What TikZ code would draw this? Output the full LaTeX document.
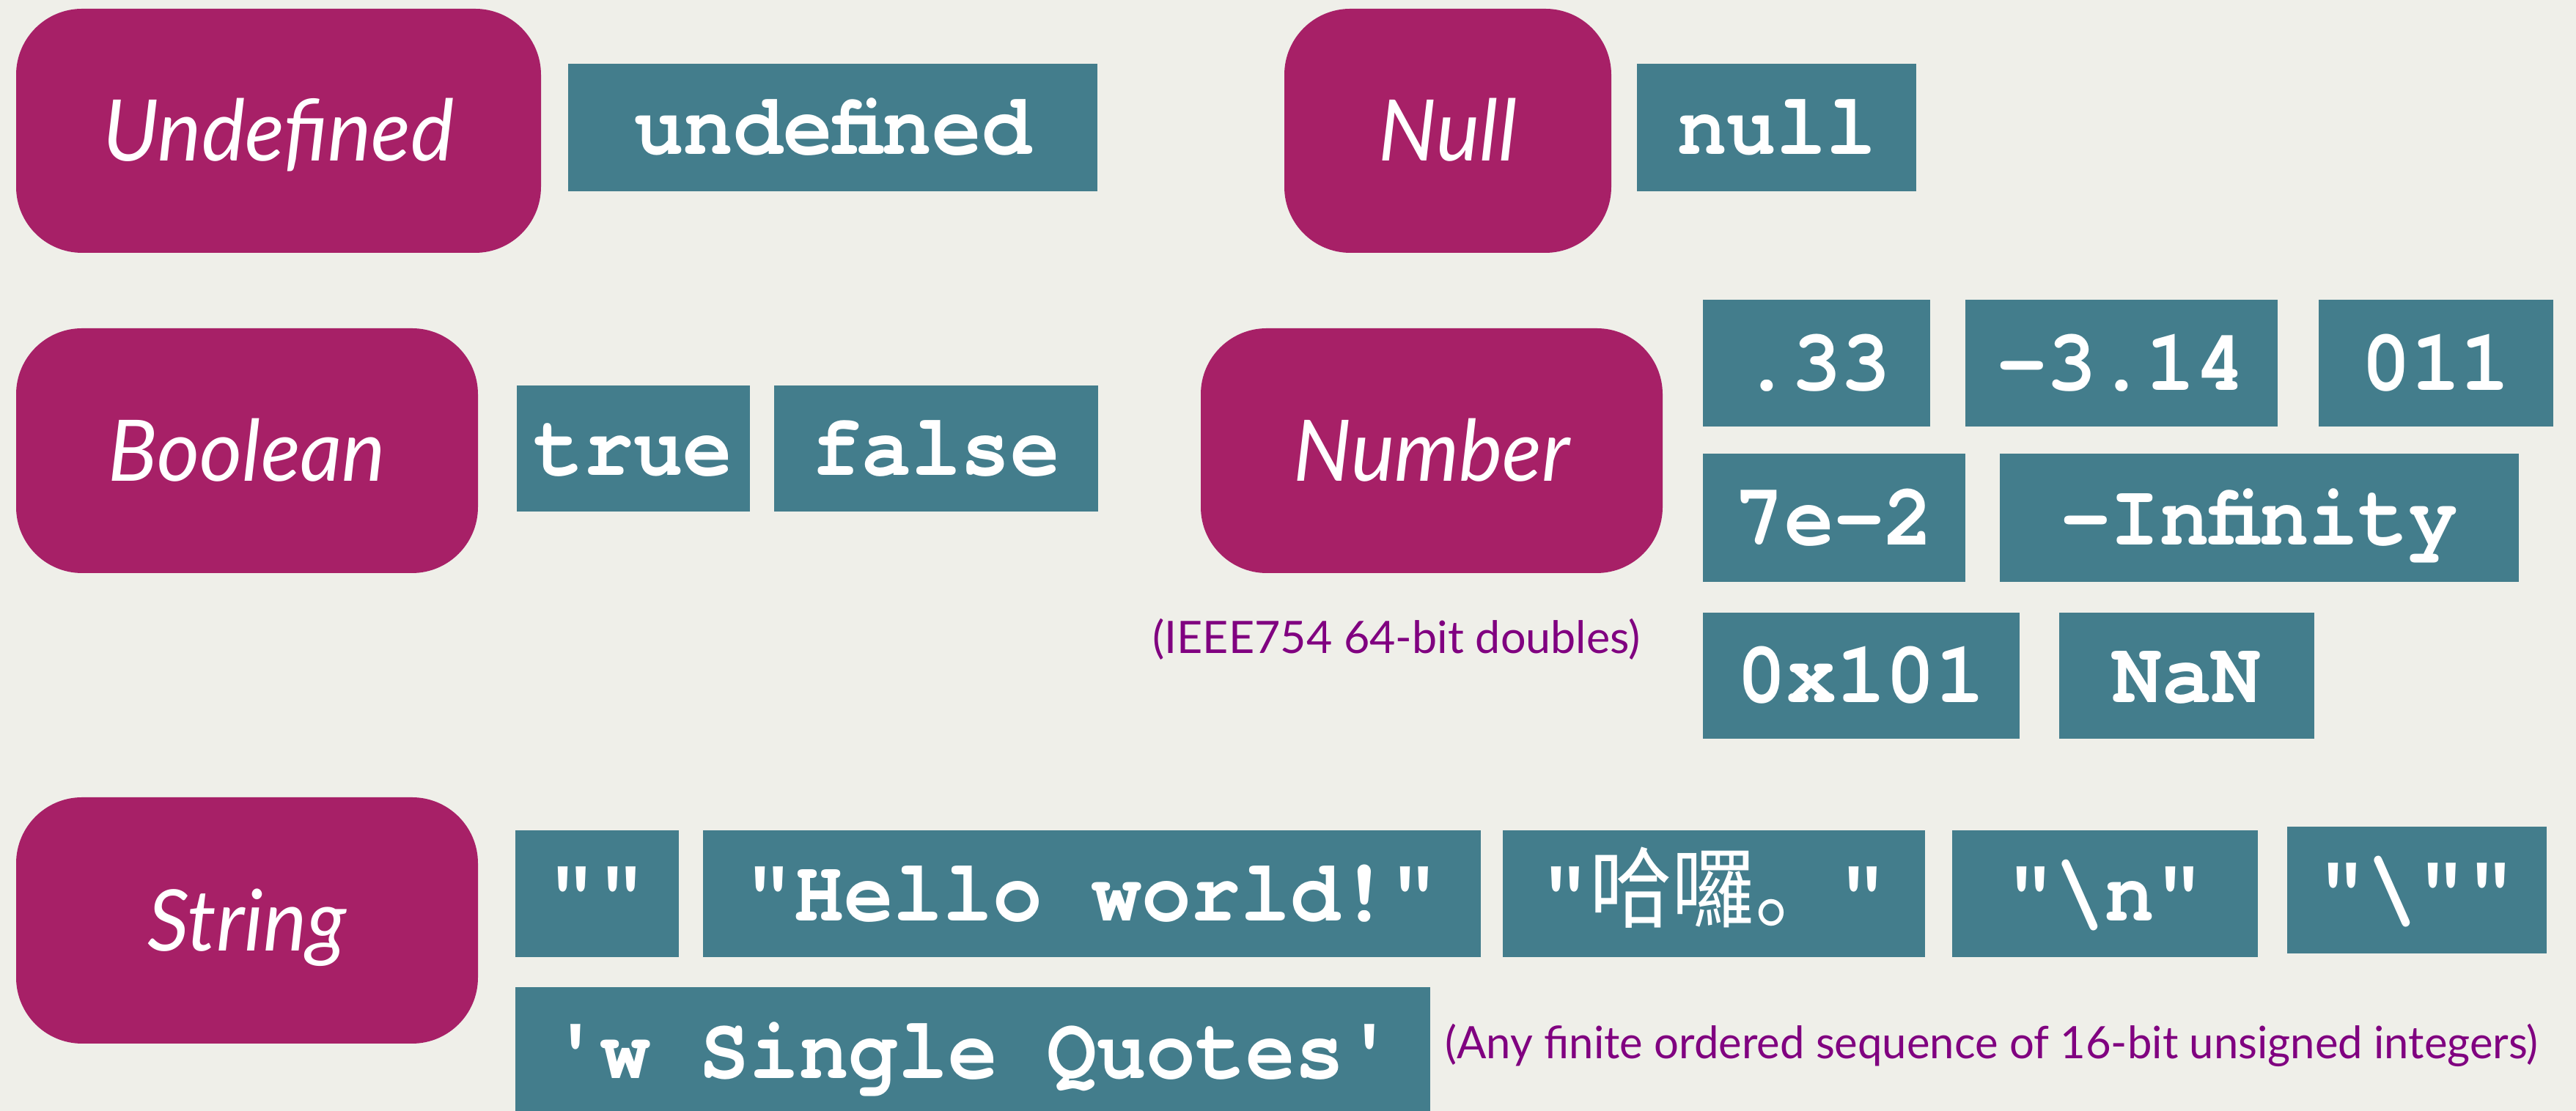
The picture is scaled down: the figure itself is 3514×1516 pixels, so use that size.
\documentclass[tikz,border=0pt]{standalone}
\usepackage{fontspec}
\usepackage{graphicx}
\setmainfont{Lato}
\newfontfamily\labelfont{Lato}
\newfontfamily\codefont{texgyrecursor-bold}[Extension=.otf, Ligatures=TeXOff]
\newfontfamily\cjkfont{Noto Sans CJK SC}

\definecolor{pagebg}{HTML}{EFEFE9}
\definecolor{typefill}{HTML}{A72067}
\definecolor{valfill}{HTML}{437D8C}
\definecolor{notecol}{HTML}{800080}

% one unit = one pixel of the layout grid, y grows downwards
\tikzset{
  x=0.1pt, y=-0.1pt,
  typebox/.style={fill=typefill, rounded corners=9pt, inner sep=0pt,
    text=white, font=\labelfont\itshape\fontsize{11.6pt}{13pt}\selectfont,
    text height=8.3pt, text depth=0pt},
  valbox/.style={fill=valfill, inner sep=0pt,
    text=white, font=\codefont\fontsize{12pt}{14pt}\selectfont,
    text height=7.4pt, text depth=0pt},
  note/.style={anchor=base, inner sep=0pt, text=notecol,
    font=\labelfont\fontsize{6.1pt}{7pt}\selectfont},
}

% slightly condensed settings of the labels
\newcommand\narrowtype[1]{\scalebox{0.965}[1]{#1}}
\newcommand\narrowcode[1]{\scalebox{0.94}[1]{#1}}

% #1 name, #2 left, #3 top, #4 right, #5 bottom, #6 text
\newcommand\typenode[6]{%
  \node[typebox, minimum width={(#4-#2)*0.1pt}, minimum height={(#5-#3)*0.1pt}]
    (#1) at ({(#2+#4)/2},{(#3+#5)/2}) {\narrowtype{#6}};}
\newcommand\valnode[6]{%
  \node[valbox, minimum width={(#4-#2)*0.1pt}, minimum height={(#5-#3)*0.1pt}]
    (#1) at ({(#2+#4)/2},{(#3+#5)/2}) {\narrowcode{#6}};}

\begin{document}
\begin{tikzpicture}
\path[use as bounding box, fill=pagebg] (0,0) rectangle (3514,1516);

% Undefined
\typenode{tundef}{22}{12}{738}{345}{Undefined}
\valnode{vundef}{775}{87}{1497}{261}{undefined}

% Null
\typenode{tnull}{1752}{12}{2198}{345}{Null}
\valnode{vnull}{2233}{87}{2614}{261}{null}

% Boolean
\typenode{tbool}{22}{448}{652}{782}{Boolean}
\valnode{vtrue}{705}{526}{1023}{698}{true}
\valnode{vfalse}{1056}{526}{1498}{698}{false}

% Number
\typenode{tnum}{1638}{448}{2268}{782}{Number}
\valnode{vn1}{2323}{409}{2633}{582}{.33}
\valnode{vn2}{2681}{409}{3107}{582}{-3.14}
\valnode{vn3}{3163}{409}{3483}{582}{011}
\valnode{vn4}{2323}{619}{2681}{794}{7e-2}
\valnode{vn5}{2728}{619}{3436}{794}{-Infinity}
\valnode{vn6}{2323}{836}{2755}{1008}{0x101}
\valnode{vn7}{2809}{836}{3157}{1008}{NaN}
\node[note] (ieee) at (1905,892) {(IEEE754 64-bit doubles)};

% String
\typenode{tstr}{22}{1088}{652}{1424}{String}
\valnode{vs1}{703}{1133}{926}{1306}{""}
\valnode{vs2}{959}{1133}{2020}{1306}{"Hello world!"}
\valnode{vs3}{2050}{1133}{2626}{1306}{"{\cjkfont 哈囉。}"}
\valnode{vs4}{2663}{1133}{3080}{1306}{"\textbackslash n"}
\valnode{vs5}{3120}{1128}{3474}{1301}{"\textbackslash""}
\valnode{vs6}{703}{1347}{1951}{1522}{'w Single Quotes'}
\node[note] (strnote) at (2717,1445)
  {\scalebox{0.98}[1]{(Any finite ordered sequence of 16-bit unsigned integers)}};
\end{tikzpicture}
\end{document}
